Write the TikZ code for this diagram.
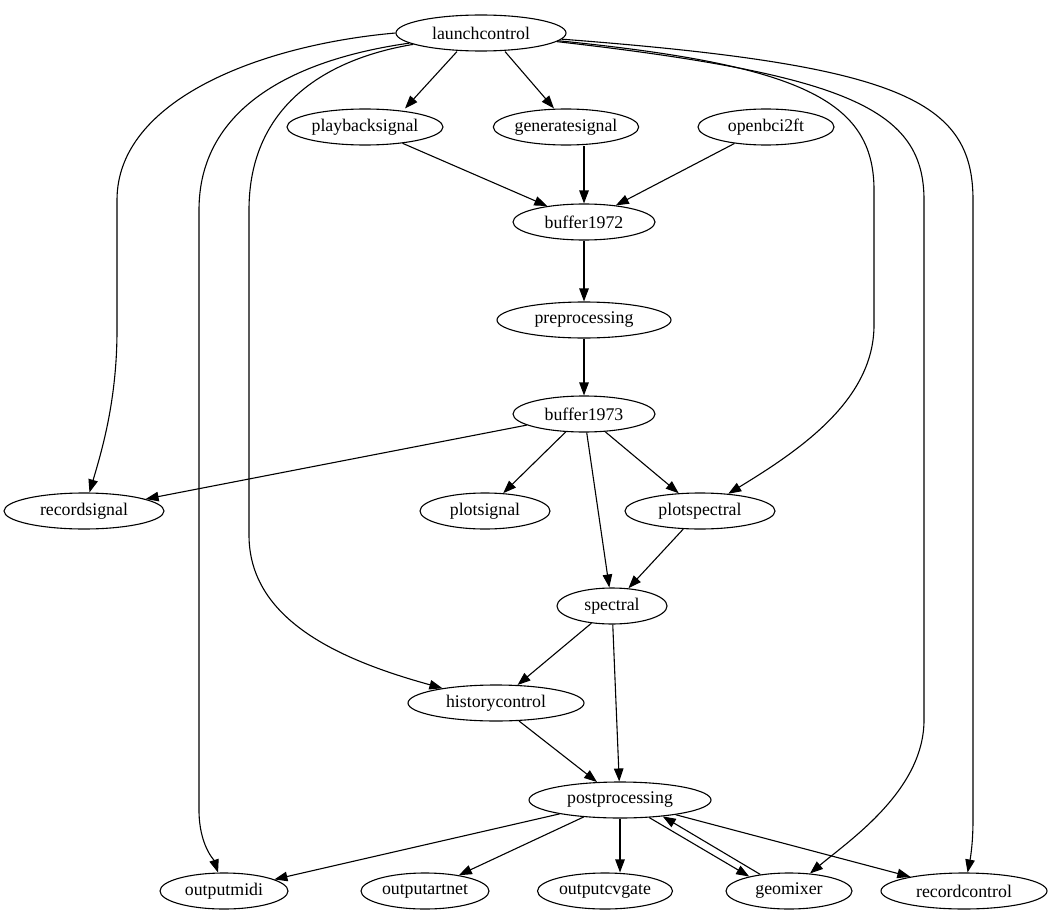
\documentclass[tikz,border=0pt]{standalone}
\usepackage{fontspec}
\setmainfont{Liberation Serif}
\usetikzlibrary{shapes.geometric,arrows.meta}
\begin{document}
\begin{tikzpicture}[x=1pt,y=-1pt,
  gnode/.style={draw,ellipse,line width=1.1pt,inner sep=0pt,minimum height=36pt,
    font=\fontsize{17.8}{20}\selectfont},
  edge/.style={draw,line width=1.1pt,-{Triangle[length=13pt,width=9.5pt]}}]
\useasboundingbox (0,0) rectangle (1052,923);
% nodes
\node[gnode,minimum width=170pt] (lc)  at (481,33)  {launchcontrol};
\node[gnode,minimum width=156pt] (pb)  at (365,127) {playbacksignal};
\node[gnode,minimum width=144pt] (gs)  at (566,127) {generatesignal};
\node[gnode,minimum width=136pt] (ob)  at (766,127) {openbci2ft};
\node[gnode,minimum width=142pt] (b72) at (584,222) {buffer1972};
\node[gnode,minimum width=174pt] (pre) at (584,320) {preprocessing};
\node[gnode,minimum width=142pt] (b73) at (584,414) {buffer1973};
\node[gnode,minimum width=160pt] (rs)  at (84,511)  {recordsignal};
\node[gnode,minimum width=130pt] (ps)  at (485,511) {plotsignal};
\node[gnode,minimum width=150pt] (psp) at (700,511) {plotspectral};
\node[gnode,minimum width=110pt] (sp)  at (612,606) {spectral};
\node[gnode,minimum width=176pt] (hc)  at (496,703) {historycontrol};
\node[gnode,minimum width=182pt] (pp)  at (620,800) {postprocessing};
\node[gnode,minimum width=128pt] (om)  at (224,891) {outputmidi};
\node[gnode,minimum width=128pt] (oa)  at (425,891) {outputartnet};
\node[gnode,minimum width=135pt] (oc)  at (605,891) {outputcvgate};
\node[gnode,minimum width=126pt] (gm)  at (789,891) {geomixer};
\node[gnode,minimum width=166pt] (rc)  at (964,891) {recordcontrol};
% edges out of launchcontrol
\draw[edge] ([xshift=-24pt]lc.south) -- ([xshift=40pt]pb.north);
\draw[edge] ([xshift=24pt]lc.south) -- ([xshift=-12pt]gs.north);
\draw[edge] (lc.west) .. controls (260,45) and (117,100) .. (117,200)
  -- (117,330) .. controls (117,400) and (102,450) .. (rs);
\draw[edge] (lc) .. controls (290,60) and (199,110) .. (199,210)
  -- (199,810) .. controls (199,845) and (214,860) .. (om);
\draw[edge] (lc) .. controls (320,60) and (249,110) .. (249,210)
  -- (249,535) .. controls (249,620) and (340,660) .. (hc);
\draw[edge] (lc) .. controls (800,65) and (874,100) .. (874,190)
  -- (874,325) .. controls (874,400) and (800,450) .. (psp);
\draw[edge] (lc) .. controls (850,75) and (924,110) .. (924,200)
  -- (924,720) .. controls (924,790) and (850,840) .. (gm);
\draw[edge] (lc) .. controls (900,65) and (973,100) .. (973,200)
  -- (973,820) .. controls (973,845) and (970,860) .. (rc);
% signal chain
\draw[edge] (pb) -- (b72);
\draw[edge] ([xshift=18pt]gs.south) -- (b72.north);
\draw[edge] (ob) -- (b72);
\draw[edge] (b72) -- (pre);
\draw[edge] (pre) -- (b73);
\draw[edge] (b73) -- (rs);
\draw[edge] (b73) -- (ps);
\draw[edge] (b73) -- (psp);
\draw[edge] (b73) -- (sp);
\draw[edge] (psp) -- (sp);
\draw[edge] (sp) -- (hc);
\draw[edge] (sp) -- (pp);
\draw[edge] (hc) -- (pp);
% outputs
\draw[edge] (pp) -- (om);
\draw[edge] (pp) -- (oa);
\draw[edge] (pp.south) -- ([xshift=15pt]oc.north);
\draw[edge] (pp.-31) -- (gm.160);
\draw[edge] (gm.150) -- (pp.-21);
\draw[edge] (pp) -- (rc);
\end{tikzpicture}
\end{document}
